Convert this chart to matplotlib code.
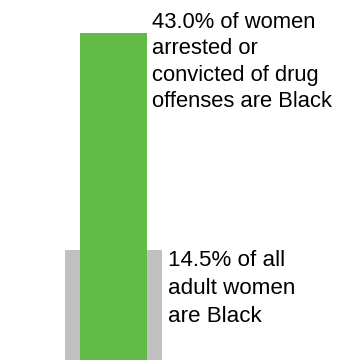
import matplotlib.pyplot as plt

# data
groups = ["All adult women", "Women arrested/convicted of drug offenses"]
pct_black = [14.5, 43.0]
labels = [
    "14.5% of all\nadult women\nare Black",
    "43.0% of women\narrested or\nconvicted of drug\noffenses are Black",
]

plt.rcParams['font.family'] = ['Liberation Sans', 'DejaVu Sans']

fig = plt.figure(figsize=(3.38, 3.6), dpi=100)
ax = fig.add_axes([0, 0, 1, 1])

# gray bar behind, green bar in front
ax.bar(0, pct_black[0], width=0.97, color='#c0c0c0', zorder=1)
ax.bar(0, pct_black[1], width=0.67, color='#62bb46', zorder=2)

ax.set_xlim(-1.135, 2.245)
ax.set_ylim(0, 43.0 * 360 / 327)

# labels anchored on the baseline of their last line
ax.text(0.39, pct_black[1] - 9.73, labels[1], fontsize=15.8,
        va='baseline', ha='left', linespacing=1.33)
ax.text(0.54, pct_black[0] - 9.5, labels[0], fontsize=16.1,
        va='baseline', ha='left', linespacing=1.45)

ax.axis('off')
fig.savefig('out.png', dpi=100)
